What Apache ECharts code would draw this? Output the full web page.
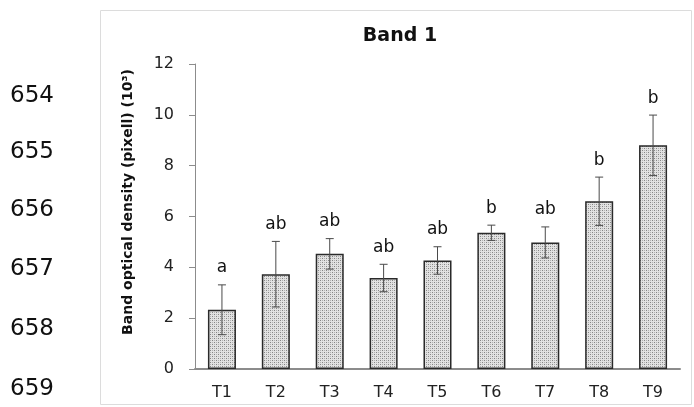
<!DOCTYPE html>
<html><head><meta charset="utf-8">
<script src="https://cdn.jsdelivr.net/npm/echarts@6/dist/echarts.min.js"></script>
<style>html,body{margin:0;padding:0;background:#fff}#c{width:694px;height:407px}</style>
</head><body><div id="c"></div>
<script>
const categories = ['T1','T2','T3','T4','T5','T6','T7','T8','T9'];
const means = [2.33, 3.73, 4.53, 3.58, 4.27, 5.36, 4.98, 6.60, 8.80];
const errors = [0.98, 1.29, 0.60, 0.54, 0.54, 0.30, 0.61, 0.95, 1.19];
const letters = ['a','ab','ab','ab','ab','b','ab','b','b'];
const yAxisTitle = 'Band optical density (pixell) (10³)';
const lineNumbers = ['654','655','656','657','658','659'];
const lineNumberY = [98, 154, 212, 271, 331, 391];

// stipple pattern
const pc = document.createElement('canvas');
pc.width = 4; pc.height = 4;
const g = pc.getContext('2d');
g.fillStyle = '#e2e2e2'; g.fillRect(0,0,4,4);
g.fillStyle = '#858585';
g.fillRect(0,0,1,1); g.fillRect(2,2,1,1);
g.fillStyle = '#b2b2b2';
g.fillRect(2,0,1,1); g.fillRect(0,2,1,1);

const F = '"DejaVu Sans"';
const chart = echarts.init(document.getElementById('c'), null, {renderer:'canvas'});
const graphics = [{
  type:'rect', shape:{x:100.5,y:10.5,width:591,height:394},
  style:{fill:'none', stroke:'#dcdcdc', lineWidth:1}, silent:true, z:-1
},{
  type:'text', x:128, y:202, rotation:Math.PI/2,
  style:{text:yAxisTitle, font:'bold 14px ' + F, fill:'#111', textAlign:'center', textVerticalAlign:'middle'}
}];
lineNumbers.forEach((t,i)=>{
  graphics.push({type:'text', left:10, top:lineNumberY[i]-13,
    style:{text:t, font:'23px ' + F, fill:'#111'}});
});
chart.setOption({
  animation:false,
  title:{text:'Band 1', left:395, top:22, textAlign:'center',
    textStyle:{fontFamily:'DejaVu Sans', fontWeight:'bold', fontSize:19, color:'#111'}},
  graphic: graphics,
  grid:{left:195, right:14, top:64, bottom:38},
  xAxis:{type:'category', data:categories,
    axisLine:{lineStyle:{color:'#8c8c8c', width:2}},
    axisTick:{show:false},
    axisLabel:{fontFamily:'DejaVu Sans', fontSize:16, color:'#222', margin:16}},
  yAxis:{type:'value', min:0, max:12, interval:2,
    axisLine:{show:true, lineStyle:{color:'#8c8c8c', width:1}},
    axisTick:{show:true, length:6, lineStyle:{color:'#8c8c8c'}},
    splitLine:{show:false},
    axisLabel:{fontFamily:'DejaVu Sans', fontSize:16, color:'#222', margin:21}},
  series:[{
    type:'bar', data:means, barWidth:'52%',
    itemStyle:{color:{image:pc, repeat:'repeat'}, borderColor:'#2a2a2a', borderWidth:1.5}
  },{
    type:'custom', z:5,
    data: categories.map((c,i)=>[i, means[i], errors[i]]),
    renderItem:function(params, api){
      const x = api.value(0), m = api.value(1), e = api.value(2);
      const t = api.coord([x, m+e]), b = api.coord([x, m-e]);
      const st = {stroke:'#4a4a4a', lineWidth:1};
      return {type:'group', children:[
        {type:'line', shape:{x1:t[0],y1:t[1],x2:b[0],y2:b[1]}, style:st},
        {type:'line', shape:{x1:t[0]-4,y1:t[1],x2:t[0]+4,y2:t[1]}, style:st},
        {type:'line', shape:{x1:b[0]-4,y1:b[1],x2:b[0]+4,y2:b[1]}, style:st},
        {type:'text', x:t[0], y:t[1]-17, style:{text:letters[params.dataIndex],
          font:'17px ' + F, fill:'#111', textAlign:'center', textVerticalAlign:'middle'}}
      ]};
    }
  }]
});
</script></body></html>
